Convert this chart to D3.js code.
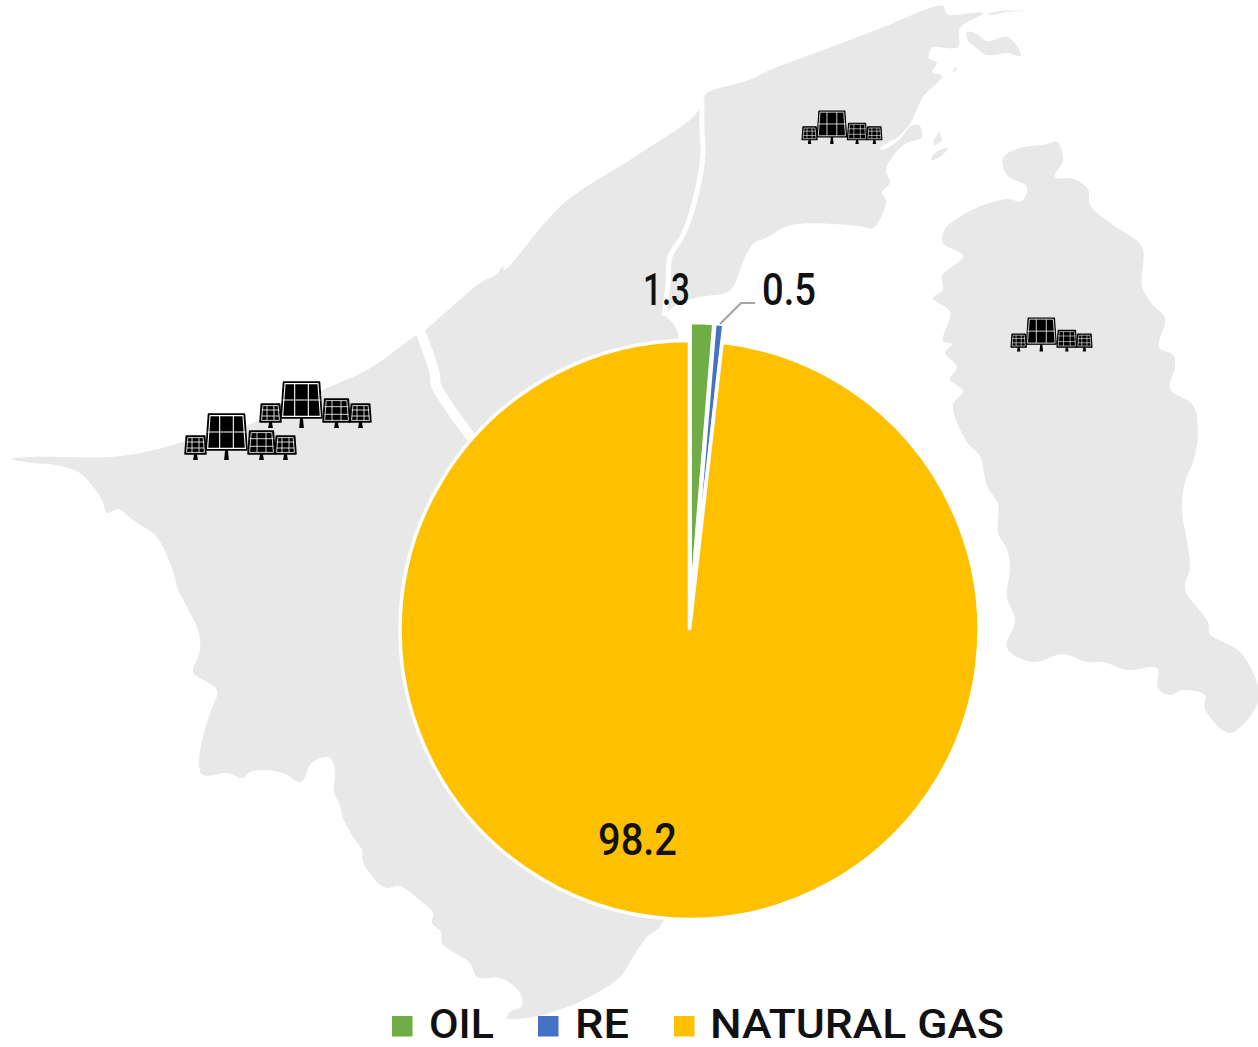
<!DOCTYPE html>
<html>
<head>
<meta charset="utf-8">
<script src="https://cdn.jsdelivr.net/npm/d3@7"></script>
<style>
  html, body { margin: 0; background: #fff; }
  svg { display: block; }
  text { font-family: Roboto, "Liberation Sans Narrow", sans-serif; font-weight: 500; fill: #111; }
</style>
</head>
<body>
<div id="chart"></div>
<script>
// chart values
const fuels = ["OIL", "RE", "NATURAL GAS"];
const shares = [1.3, 0.5, 98.2];
const fuelColors = ["#70ad47", "#4472c4", "#ffc000"];

// background map
const mainland = [
  [12,459],[33,457],[110,457],[150,451],[183,442],[240,428],[327,388],[367,370],[400,347],[416,335],
  [425,330],[480,283],[497,274],[503,266],[504,270],[564,203],[636,156],[695,115],[703,100],[707,93],
  [749,80],[770,70],[829,48],[884,27],[943,6],[947,14],[983,13],[960,28],[958,47],[932,48],
  [929,58],[937,63],[932,72],[942,76],[923,97],[911,122],[899,136],[880,148],[882,150],[899,140],
  [911,126],[919,125],[922,137],[905,144],[893,156],[886,170],[890,183],[882,192],[886,202],[873,228],
  [859,226],[791,225],[766,238],[754,243],[745,257],[735,283],[728,292],[695,298],[672,308],[666,316],
  [672,322],[678,333],[678,345],[690,630],[663,922],[647,937],[633,957],[620,977],[597,993],[567,1007],
  [533,1017],[507,1018],[510,1012],[522,1006],[520,993],[510,983],[500,978],[477,977],[470,963],[453,952],
  [442,943],[441,932],[432,923],[433,913],[417,898],[400,886],[387,888],[378,883],[363,862],[362,850],
  [353,837],[343,818],[340,805],[334,792],[335,770],[330,758],[320,758],[310,765],[305,777],[300,782],
  [283,773],[263,770],[250,772],[243,778],[227,773],[203,775],[199,765],[203,737],[210,713],[217,690],
  [200,678],[193,672],[200,650],[198,630],[187,607],[177,587],[175,577],[163,547],[155,535],[133,520],
  [118,509],[107,513],[102,500],[90,483],[80,473],[57,465],[33,463]
];
const temburong = [
  [1003,158],[1020,148],[1043,145],[1057,142],[1063,160],[1055,177],[1073,179],[1088,189],[1090,205],[1113,225],
  [1142,247],[1142,286],[1152,304],[1165,318],[1159,347],[1173,355],[1175,367],[1170,389],[1193,405],[1198,434],
  [1193,462],[1185,482],[1182,510],[1187,541],[1190,567],[1185,589],[1208,622],[1210,634],[1240,652],[1258,686],
  [1258,703],[1230,733],[1205,709],[1205,695],[1183,690],[1170,695],[1158,688],[1157,668],[1127,670],[1103,662],
  [1087,662],[1063,654],[1033,662],[1007,648],[1015,620],[1007,597],[1010,567],[1007,549],[998,533],[998,504],
  [987,486],[980,456],[967,442],[953,405],[963,391],[950,379],[957,367],[945,353],[952,344],[943,341],
  [950,312],[933,298],[943,290],[942,276],[963,256],[943,243],[945,229],[970,211],[990,203],[1007,199],
  [1022,201],[1027,187],[1007,175]
];
const islands = [
  [[967,32],[975,33],[987,41],[1008,37],[1021,56],[1007,53],[987,55],[975,47],[968,40]],
  [[988,14],[1000,11],[1027,11],[1007,12],[990,15]],
  [[955,67],[953,73],[957,68]],
  [[943,123],[940,133],[942,140],[934,145],[934,140],[940,131]],
  [[948,148],[940,157],[931,160],[935,153]]
];
const channels = [
  { width: 5, points: [[702,100],[702,130],[703,153],[695,200],[683,235],[670,257],[668,285],[664,316]] },
  { width: 10, points: [[420,331],[428,352],[435,375],[436,385],[474,441]] }
];

// solar farm icons: where they sit and how big
const farmSpots = [[185,414,1],[260,382,1],[802,111,0.72],[1011,318,0.73]];
const panels = [
  { x: 21, y: 0, w: 41, h: 36, cols: 3, rows: 2, post: 10 },
  { x: 0, y: 22, w: 21, h: 18, cols: 3, rows: 3, post: 6 },
  { x: 63, y: 17, w: 27, h: 23, cols: 3, rows: 3, post: 6 },
  { x: 90, y: 22, w: 21, h: 18, cols: 3, rows: 3, post: 6 }
];

const width = 1258, height = 1047;
const cx = 689.5, cy = 630, radius = 289.5, explode = 18;

const svg = d3.select("#chart").append("svg")
  .attr("width", width)
  .attr("height", height);

// Map
const outline = d3.line().curve(d3.curveCatmullRomClosed.alpha(0.5));
const riverLine = d3.line().curve(d3.curveCatmullRom.alpha(0.5));
svg.append("g")
  .attr("fill", "#e8e8e8")
  .selectAll("path")
  .data([mainland, temburong, ...islands])
  .join("path")
  .attr("d", outline);

svg.append("g")
  .attr("fill", "none")
  .attr("stroke", "#fff")
  .attr("stroke-linejoin", "round")
  .selectAll("path")
  .data(channels)
  .join("path")
  .attr("stroke-width", (d) => d.width)
  .attr("d", (d) => riverLine(d.points));

// Solar farm icons
const farms = svg.append("g")
  .selectAll("g")
  .data(farmSpots)
  .join("g")
  .attr("transform", (d) => `translate(${d[0]},${d[1]}) scale(${d[2]})`);

const panel = farms.selectAll("g")
  .data(panels)
  .join("g")
  .attr("transform", (d) => `translate(${d.x},${d.y})`);

panel.append("path")
  .attr("fill", "#000")
  .attr("d", (d) => {
    const post = d.w / 2;
    const bottom = 46 - d.y;
    return `M${post - 1.4} ${d.h}L${post - 2.4} ${bottom}H${post + 2.4}L${post + 1.4} ${d.h}Z`;
  });

panel.append("path")
  .attr("fill", "#000")
  .attr("stroke", "#000")
  .attr("stroke-width", 1.5)
  .attr("stroke-linejoin", "round")
  .attr("d", (d) => `M${d.w * 0.06} 0H${d.w * 0.94}L${d.w} ${d.h}H0Z`);

panel.append("path")
  .attr("fill", "none")
  .attr("stroke", "#fff")
  .attr("stroke-width", (d) => (d.rows === 2 ? 1.1 : 0.8))
  .attr("d", (d) => {
    const inset = 1.6;
    let p = `M${d.w * 0.06 + inset} ${inset}H${d.w * 0.94 - inset}L${d.w - inset} ${d.h - inset}H${inset}Z`;
    for (let c = 1; c < d.cols; c++) {
      const x = (d.w * c) / d.cols;
      p += `M${x} ${inset}V${d.h - inset}`;
    }
    for (let r = 1; r < d.rows; r++) {
      const y = (d.h * r) / d.rows;
      p += `M${inset} ${y}H${d.w - inset}`;
    }
    return p;
  });

// Pie, the two small slices pulled out
const pie = d3.pie().sort(null)(shares);
const arc = d3.arc().innerRadius(0).outerRadius(radius);

svg.append("g")
  .attr("transform", `translate(${cx},${cy})`)
  .selectAll("path")
  .data(pie)
  .join("path")
  .attr("fill", (d, i) => fuelColors[i])
  .attr("stroke", "#fff")
  .attr("stroke-width", 3.5)
  .attr("stroke-linejoin", "miter")
  .attr("transform", (d, i) => {
    if (i === 2) return null;
    const mid = (d.startAngle + d.endAngle) / 2;
    return `translate(${explode * Math.sin(mid)},${-explode * Math.cos(mid)})`;
  })
  .attr("d", arc);

// Leader line for the RE label
svg.append("path")
  .attr("fill", "none")
  .attr("stroke", "#a6a6a6")
  .attr("stroke-width", 2)
  .attr("d", d3.line()([[720,324],[741,303],[755,303]]));

// Data labels
const labelSpots = [[643,305,47],[762,305,54],[598,855,79]];
svg.append("g")
  .selectAll("text")
  .data(shares)
  .join("text")
  .attr("x", (d, i) => labelSpots[i][0])
  .attr("y", (d, i) => labelSpots[i][1])
  .attr("textLength", (d, i) => labelSpots[i][2])
  .attr("lengthAdjust", "spacingAndGlyphs")
  .attr("font-size", 44)
  .text((d) => d);

// Legend
const legendSwatch = [392, 538, 674];
const legendText = [[429,65],[575,54],[710,294]];
const legend = svg.append("g")
  .selectAll("g")
  .data(fuels)
  .join("g");

legend.append("rect")
  .attr("x", (d, i) => legendSwatch[i])
  .attr("y", 1016)
  .attr("width", 20.5)
  .attr("height", 20.5)
  .attr("fill", (d, i) => fuelColors[i]);

legend.append("text")
  .attr("x", (d, i) => legendText[i][0])
  .attr("y", 1037.5)
  .attr("textLength", (d, i) => legendText[i][1])
  .attr("lengthAdjust", "spacingAndGlyphs")
  .attr("font-size", 40)
  .text((d) => d);
</script>
</body>
</html>
